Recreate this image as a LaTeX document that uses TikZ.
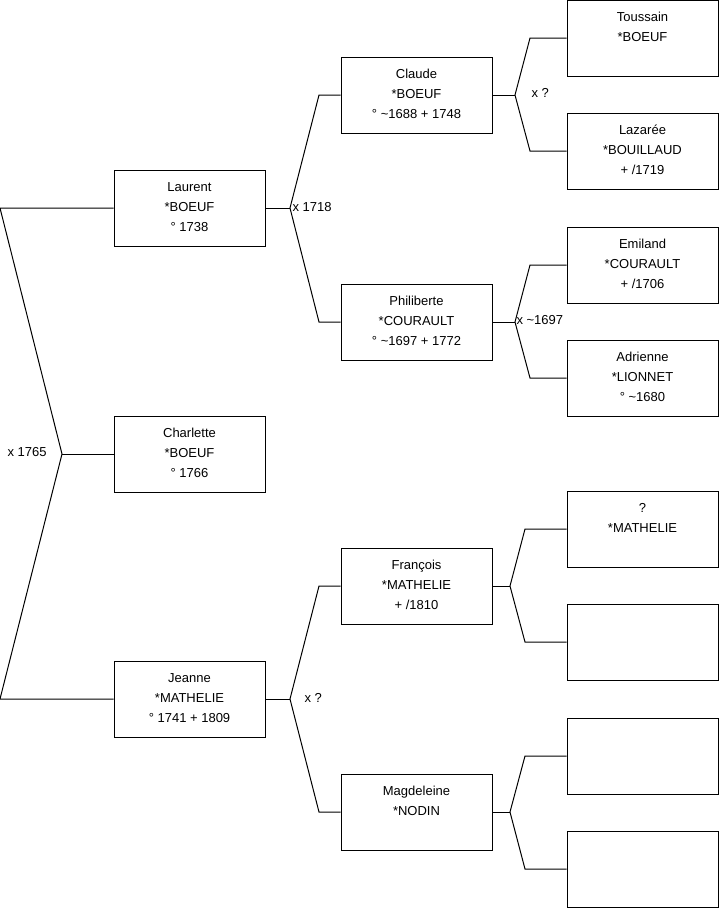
\documentclass[tikz,border=0pt]{standalone}
\usepackage{fontspec}
\setmainfont{Liberation Sans}
\newcommand{\tld}{\textasciitilde}
\begin{document}
\begin{tikzpicture}[x=1pt,y=-1pt,line width=1pt,
  person/.style={draw=black,minimum width=151pt,minimum height=76pt,inner sep=0pt},
  pname/.style={anchor=north,align=center,inner sep=0pt,font=\fontsize{13}{20}\selectfont},
  mlabel/.style={anchor=west,inner sep=0pt,font=\fontsize{13}{20}\selectfont},
  link/.style={draw=black,line width=1pt}]
\useasboundingbox (0,0) rectangle (719,908);

% generation 1
\node[person] (laurent)   at (189.5,208) {};
\node[person] (charlette) at (189.5,454) {};
\node[person] (jeanne)    at (189.5,699) {};
% generation 2
\node[person] (claude)     at (416.5,95)  {};
\node[person] (philiberte) at (416.5,322) {};
\node[person] (francois)   at (416.5,586) {};
\node[person] (magdeleine) at (416.5,812) {};
% generation 3
\node[person] (toussain) at (642.5,38)  {};
\node[person] (lazaree)  at (642.5,151) {};
\node[person] (emiland)  at (642.5,265) {};
\node[person] (adrienne) at (642.5,378) {};
\node[person] (unknown)  at (642.5,529) {};
\node[person] (e1)       at (642.5,642) {};
\node[person] (e2)       at (642.5,756) {};
\node[person] (e3)       at (642.5,869) {};

% texts
\node[pname] (laurentT)    at ([yshift=-7pt]laurent.north)    {\strut Laurent\\*BOEUF\\° 1738};
\node[pname] (charletteT)  at ([yshift=-7pt]charlette.north)  {\strut Charlette\\*BOEUF\\° 1766};
\node[pname] (jeanneT)     at ([yshift=-7pt]jeanne.north)     {\strut Jeanne\\*MATHELIE\\° 1741 + 1809};
\node[pname] (claudeT)     at ([yshift=-7pt]claude.north)     {\strut Claude\\*BOEUF\\° \tld1688 + 1748};
\node[pname] (philiberteT) at ([yshift=-7pt]philiberte.north) {\strut Philiberte\\*COURAULT\\° \tld1697 + 1772};
\node[pname] (francoisT)   at ([yshift=-7pt]francois.north)   {\strut François\\*MATHELIE\\+ /1810};
\node[pname] (magdeleineT) at ([yshift=-7pt]magdeleine.north) {\strut Magdeleine\\*NODIN};
\node[pname] (toussainT)   at ([yshift=-7pt]toussain.north)   {\strut Toussain\\*BOEUF};
\node[pname] (lazareeT)    at ([yshift=-7pt]lazaree.north)    {\strut Lazarée\\*BOUILLAUD\\+ /1719};
\node[pname] (emilandT)    at ([yshift=-7pt]emiland.north)    {\strut Emiland\\*COURAULT\\+ /1706};
\node[pname] (adrienneT)   at ([yshift=-7pt]adrienne.north)   {\strut Adrienne\\*LIONNET\\° \tld1680};
\node[pname] (unknownT)    at ([yshift=-7pt]unknown.north)    {\strut ?\\*MATHELIE};

% fork points
\coordinate (f0top) at (0,208);
\coordinate (f0)    at (62,454);
\coordinate (f0bot) at (0,699);

\coordinate (fL)  at (290,208);
\coordinate (fLa) at (319,95);
\coordinate (fLb) at (319,322);
\coordinate (fJ)  at (290,699);
\coordinate (fJa) at (319,586);
\coordinate (fJb) at (319,812);

\coordinate (fC)  at (515,95);
\coordinate (fCa) at (530,38);
\coordinate (fCb) at (530,151);
\coordinate (fP)  at (515,322);
\coordinate (fPa) at (530,265);
\coordinate (fPb) at (530,378);
\coordinate (fF)  at (510,586);
\coordinate (fFa) at (525,529);
\coordinate (fFb) at (525,642);
\coordinate (fM)  at (510,812);
\coordinate (fMa) at (525,756);
\coordinate (fMb) at (525,869);

% connectors
\draw[link] (laurent.west) -- (f0top) -- (f0) -- (f0bot) -- (jeanne.west);
\draw[link] (f0) -- (charlette.west);

\draw[link] (laurent.east) -- (fL);
\draw[link] (claude.west) -- (fLa) -- (fL) -- (fLb) -- (philiberte.west);
\draw[link] (jeanne.east) -- (fJ);
\draw[link] (francois.west) -- (fJa) -- (fJ) -- (fJb) -- (magdeleine.west);

\draw[link] (claude.east) -- (fC);
\draw[link] (toussain.west) -- (fCa) -- (fC) -- (fCb) -- (lazaree.west);
\draw[link] (philiberte.east) -- (fP);
\draw[link] (emiland.west) -- (fPa) -- (fP) -- (fPb) -- (adrienne.west);
\draw[link] (francois.east) -- (fF);
\draw[link] (unknown.west) -- (fFa) -- (fF) -- (fFb) -- (e1.west);
\draw[link] (magdeleine.east) -- (fM);
\draw[link] (e2.west) -- (fMa) -- (fM) -- (fMb) -- (e3.west);

% marriage labels
\node[mlabel] (m0) at (7,452)   {x 1765};
\node[mlabel] (m1) at (292,207) {x 1718};
\node[mlabel] (m2) at (304,698) {x ?};
\node[mlabel] (m3) at (531,93)  {x ?};
\node[mlabel] (m4) at (516,320) {x \tld1697};
\end{tikzpicture}
\end{document}
